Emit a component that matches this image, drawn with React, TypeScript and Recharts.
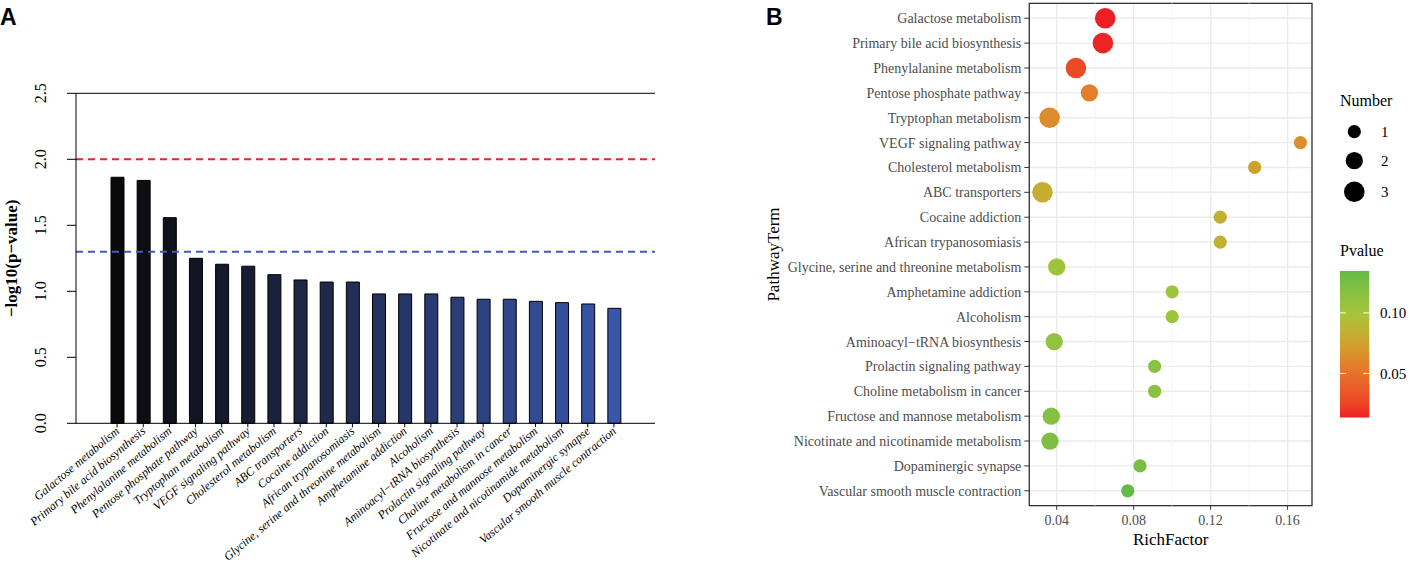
import React from 'react'
import {
  BarChart,
  Bar,
  XAxis,
  YAxis,
  ZAxis,
  Cell,
  ReferenceLine,
  ReferenceArea,
  ScatterChart,
  Scatter,
  CartesianGrid,
} from 'recharts'

// pathways, in the order of both panels (top to bottom in B, left to right in A)
const pathways = [
  'Galactose metabolism',
  'Primary bile acid biosynthesis',
  'Phenylalanine metabolism',
  'Pentose phosphate pathway',
  'Tryptophan metabolism',
  'VEGF signaling pathway',
  'Cholesterol metabolism',
  'ABC transporters',
  'Cocaine addiction',
  'African trypanosomiasis',
  'Glycine, serine and threonine metabolism',
  'Amphetamine addiction',
  'Alcoholism',
  'Aminoacyl−tRNA biosynthesis',
  'Prolactin signaling pathway',
  'Choline metabolism in cancer',
  'Fructose and mannose metabolism',
  'Nicotinate and nicotinamide metabolism',
  'Dopaminergic synapse',
  'Vascular smooth muscle contraction',
]

const negLogP = [1.864, 1.84, 1.558, 1.25, 1.205, 1.19, 1.126, 1.086, 1.07, 1.07, 0.98, 0.98, 0.98, 0.955, 0.94, 0.94, 0.924, 0.914, 0.904, 0.871]
const richFactor = [0.0652, 0.064, 0.05, 0.057, 0.0363, 0.1667, 0.1429, 0.0326, 0.125, 0.125, 0.04, 0.1, 0.1, 0.0387, 0.0909, 0.0909, 0.0372, 0.0365, 0.0833, 0.0769]
const geneNumber = [3, 3, 3, 2, 3, 1, 1, 3, 1, 1, 2, 1, 1, 2, 1, 1, 2, 2, 1, 1]
const pValue = [0.0137, 0.0145, 0.0277, 0.0562, 0.0624, 0.0646, 0.0748, 0.082, 0.0851, 0.0851, 0.1047, 0.1047, 0.1047, 0.1109, 0.1148, 0.1148, 0.1191, 0.1219, 0.1247, 0.1346]

const yTicksA = [0, 0.5, 1, 1.5, 2, 2.5]
const xTicksB = [0.04, 0.08, 0.12, 0.16]
const xMinorB = [0.06, 0.1, 0.14]
const numberLegend = [1, 2, 3]
const pvalueLegend = [0.05, 0.1]

const serif = "'Liberation Serif', 'Times New Roman', serif"
const sans = "'Liberation Sans', Arial, sans-serif"

// --- colour helpers ---
function hexToRgb(h: string) {
  const n = parseInt(h.slice(1), 16)
  return [(n >> 16) & 255, (n >> 8) & 255, n & 255]
}
const toLin = (c: number) => {
  c /= 255
  return c <= 0.04045 ? c / 12.92 : Math.pow((c + 0.055) / 1.055, 2.4)
}
const fromLin = (c: number) => {
  const v = c <= 0.0031308 ? 12.92 * c : 1.055 * Math.pow(c, 1 / 2.4) - 0.055
  return Math.round(Math.min(1, Math.max(0, v)) * 255)
}
function rgbToLab(rgb: number[]) {
  const [R, G, B] = rgb.map(toLin)
  const X = (0.4124 * R + 0.3576 * G + 0.1805 * B) / 0.95047
  const Y = 0.2126 * R + 0.7152 * G + 0.0722 * B
  const Z = (0.0193 * R + 0.1192 * G + 0.9505 * B) / 1.08883
  const f = (t: number) => (t > 0.008856 ? Math.cbrt(t) : 7.787 * t + 16 / 116)
  const fx = f(X), fy = f(Y), fz = f(Z)
  return [116 * fy - 16, 500 * (fx - fy), 200 * (fy - fz)]
}
function labToRgb([L, a, b]: number[]) {
  const fy = (L + 16) / 116
  const fx = fy + a / 500
  const fz = fy - b / 200
  const inv = (t: number) => (t * t * t > 0.008856 ? t * t * t : (t - 16 / 116) / 7.787)
  const X = inv(fx) * 0.95047, Y = inv(fy), Z = inv(fz) * 1.08883
  const R = 3.2406 * X - 1.5372 * Y - 0.4986 * Z
  const G = -0.9689 * X + 1.8758 * Y + 0.0415 * Z
  const Bl = 0.0557 * X - 0.204 * Y + 1.057 * Z
  return `rgb(${fromLin(R)},${fromLin(G)},${fromLin(Bl)})`
}

// red -> orange -> gold -> yellow-green -> green
const gradStops: [number, string][] = [
  [0, '#EE1F24'],
  [0.3, '#E8712A'],
  [0.5, '#D0A12E'],
  [0.71, '#A6C53B'],
  [1, '#64BB47'],
]
const gradLab = gradStops.map(([t, c]) => [t, rgbToLab(hexToRgb(c))] as [number, number[]])
const pMin = Math.min(...pValue)
const pMax = Math.max(...pValue)
function pColorT(t: number) {
  for (let k = 1; k < gradLab.length; k++) {
    const [t0, c0] = gradLab[k - 1]
    const [t1, c1] = gradLab[k]
    if (t <= t1 || k === gradLab.length - 1) {
      const u = Math.min(1, Math.max(0, (t - t0) / (t1 - t0)))
      return labToRgb(c0.map((v, j) => v + (c1[j] - v) * u))
    }
  }
  return labToRgb(gradLab[0][1])
}
const pColor = (p: number) => pColorT((p - pMin) / (pMax - pMin))

const barLow = hexToRgb('#0a0a0a')
const barHigh = hexToRgb('#3a56aa')
function barColor(i: number, n: number) {
  const t = i / (n - 1)
  const c = barLow.map((v, k) => Math.round(v + (barHigh[k] - v) * t))
  return `rgb(${c[0]},${c[1]},${c[2]})`
}

// size mapping for Number (area in px^2)
const sizeRange = [137, 333]
const areaOf = (n: number) => sizeRange[0] + ((n - 1) / 2) * (sizeRange[1] - sizeRange[0])

const barData = pathways.map((term, i) => ({ term, value: negLogP[i] }))
const dotData = pathways.map((term, i) => ({
  term,
  y: i,
  rich: richFactor[i],
  count: geneNumber[i],
  p: pValue[i],
}))

function PanelA() {
  return (
    <BarChart width={680} height={567} data={barData} margin={{ top: 93.3, right: 25, bottom: 3.7, left: 0 }}>
      <XAxis
        dataKey="term"
        type="category"
        interval={0}
        padding={{ left: 28, right: 28 }}
        height={140}
        tickSize={4}
        axisLine={{ stroke: '#000' }}
        tickLine={{ stroke: '#000' }}
        tick={(p: any) => (
          <text
            x={p.x + 3}
            y={p.y + 3}
            transform={`rotate(-40 ${p.x + 3} ${p.y + 3})`}
            textAnchor="end"
            fontStyle="italic"
            fontSize={12}
            fontFamily={serif}
            fill="#000"
          >
            {p.payload.value}
          </text>
        )}
      />
      <YAxis
        type="number"
        domain={[0, 2.5]}
        ticks={yTicksA}
        width={76}
        tickSize={9}
        axisLine={{ stroke: '#000' }}
        tickLine={{ stroke: '#000' }}
        tick={(p: any) => (
          <text
            x={46}
            y={p.y}
            transform={`rotate(-90 46 ${p.y})`}
            textAnchor="middle"
            fontSize={16}
            fontFamily={serif}
            fill="#000"
          >
            {Number(p.payload.value).toFixed(1)}
          </text>
        )}
        label={(p: any) => {
          const cy = p.viewBox.y + p.viewBox.height / 2
          return (
            <text
              x={17}
              y={cy}
              transform={`rotate(-90 17 ${cy})`}
              textAnchor="middle"
              fontSize={17}
              fontWeight="bold"
              fontFamily={serif}
              fill="#000"
            >
              −log10(p−value)
            </text>
          )
        }}
      />
      <ReferenceLine y={2.5} stroke="#333" strokeWidth={1.2} />
      <ReferenceLine y={2} stroke="#e3262b" strokeWidth={2} strokeDasharray="7 5" />
      <ReferenceLine y={1.3} stroke="#4458bd" strokeWidth={2} strokeDasharray="7 5" />
      <Bar dataKey="value" barSize={13} stroke="#000" strokeWidth={1} isAnimationActive={false}>
        {barData.map((d, i) => (
          <Cell key={d.term} fill={barColor(i, barData.length)} />
        ))}
      </Bar>
    </BarChart>
  )
}

const xDomainB = [0.02575, 0.1727]
const yDomainB = [-0.6, 19.6]

function PanelB() {
  return (
    <ScatterChart width={651} height={567} margin={{ top: 3.3, right: 99, bottom: 31.3, left: 0 }}>
      <CartesianGrid stroke="#EBEBEB" strokeWidth={1.4} />
      {xMinorB.map((v) => (
        <ReferenceLine key={v} x={v} stroke="#F2F2F2" strokeWidth={0.8} />
      ))}
      <XAxis
        type="number"
        dataKey="rich"
        domain={xDomainB}
        allowDataOverflow
        ticks={xTicksB}
        tickFormatter={(v: number) => v.toFixed(2)}
        height={30}
        tickSize={4}
        tickMargin={5}
        axisLine={false}
        tickLine={{ stroke: '#333' }}
        tick={{ fill: '#4D4D4D', fontSize: 14, fontFamily: serif }}
        label={(p: any) => (
          <text
            x={p.viewBox.x + p.viewBox.width / 2}
            y={545}
            textAnchor="middle"
            fontSize={17}
            fontFamily={serif}
            fill="#000"
          >
            RichFactor
          </text>
        )}
      />
      <YAxis
        type="number"
        dataKey="y"
        domain={yDomainB}
        reversed
        allowDataOverflow
        ticks={pathways.map((_, i) => i)}
        interval={0}
        tickFormatter={(v: number) => pathways[v]}
        width={269.3}
        tickSize={5}
        tickMargin={3}
        axisLine={false}
        tickLine={{ stroke: '#333' }}
        tick={{ fill: '#4D4D4D', fontSize: 14, fontFamily: serif }}
        label={(p: any) => {
          const cy = p.viewBox.y + p.viewBox.height / 2
          return (
            <text
              x={19}
              y={cy}
              transform={`rotate(-90 19 ${cy})`}
              textAnchor="middle"
              fontSize={17}
              fontFamily={serif}
              fill="#000"
            >
              PathwayTerm
            </text>
          )
        }}
      />
      <ZAxis type="number" dataKey="count" domain={[1, 3]} range={sizeRange} />
      <Scatter data={dotData} shape="circle" isAnimationActive={false}>
        {dotData.map((d) => (
          <Cell key={d.term} fill={pColor(d.p)} />
        ))}
      </Scatter>
      <ReferenceArea
        x1={xDomainB[0]}
        x2={xDomainB[1]}
        y1={yDomainB[0]}
        y2={yDomainB[1]}
        fill="none"
        stroke="#333"
        strokeWidth={1.3}
        ifOverflow="visible"
      />
    </ScatterChart>
  )
}

function Legends() {
  const barTop = 271
  const barH = 146.5
  const barBottom = barTop + barH
  const yOfP = (p: number) => barBottom - ((p - pMin) / (pMax - pMin)) * barH
  const keyY = [131.7, 160.7, 191.7]
  const stops = Array.from({ length: 21 }, (_, k) => k / 20)
  return (
    <svg width={1411} height={567} style={{ position: 'absolute', left: 0, top: 0, pointerEvents: 'none' }}>
      <text x={0} y={25} fontSize={23} fontWeight="bold" fontFamily={sans} fill="#000">A</text>
      <text x={766} y={25} fontSize={23} fontWeight="bold" fontFamily={sans} fill="#000">B</text>

      <text x={1340} y={106} fontSize={16} fontFamily={serif} fill="#000">Number</text>
      {numberLegend.map((n, i) => (
        <g key={n}>
          <circle cx={1354.3} cy={keyY[i]} r={Math.sqrt(areaOf(n) / Math.PI)} fill="#000" />
          <text x={1381} y={keyY[i] + 5} fontSize={15} fontFamily={serif} fill="#000">{n}</text>
        </g>
      ))}

      <text x={1340} y={256} fontSize={16} fontFamily={serif} fill="#000">Pvalue</text>
      <defs>
        <linearGradient id="pvgrad" x1="0" y1="1" x2="0" y2="0">
          {stops.map((t) => (
            <stop key={t} offset={t} stopColor={pColorT(t)} />
          ))}
        </linearGradient>
      </defs>
      <rect x={1340} y={barTop} width={29.3} height={barH} fill="url(#pvgrad)" />
      {pvalueLegend.map((p) => (
        <g key={p}>
          <line x1={1340} x2={1346} y1={yOfP(p)} y2={yOfP(p)} stroke="#fff" strokeWidth={1} />
          <line x1={1363.3} x2={1369.3} y1={yOfP(p)} y2={yOfP(p)} stroke="#fff" strokeWidth={1} />
          <text x={1380} y={yOfP(p) + 5} fontSize={15} fontFamily={serif} fill="#000">{p.toFixed(2)}</text>
        </g>
      ))}
    </svg>
  )
}

export default function App() {
  return (
    <div style={{ position: 'absolute', left: 0, top: 0, width: 1411, height: 567, background: '#fff' }}>
      <div style={{ position: 'absolute', left: 0, top: 0 }}>
        <PanelA />
      </div>
      <div style={{ position: 'absolute', left: 760, top: 0 }}>
        <PanelB />
      </div>
      <Legends />
    </div>
  )
}
